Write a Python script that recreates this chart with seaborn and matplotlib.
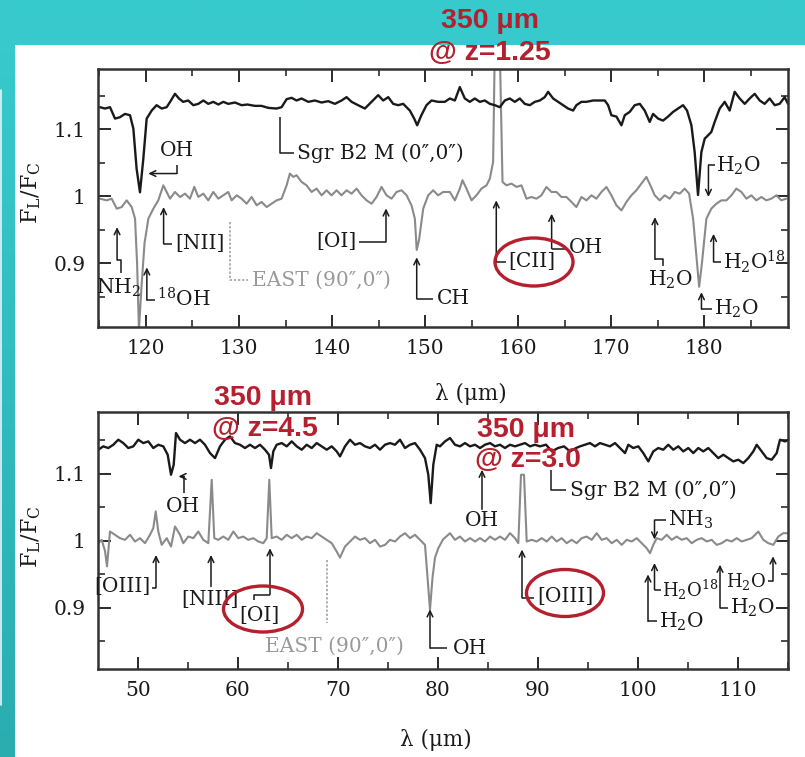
import numpy as np
import pandas as pd
import matplotlib
matplotlib.use("Agg")
import matplotlib.pyplot as plt
import seaborn as sns
from matplotlib.patches import Ellipse, Rectangle
from matplotlib.colors import LinearSegmentedColormap
from matplotlib.ticker import MultipleLocator, FixedLocator, FixedFormatter

# ---------------------------------------------------------------------------
# Spectra: line-to-continuum ratio F_L/F_C versus wavelength (micron)
# ---------------------------------------------------------------------------
# Long-wavelength panel (115-189 um), Sgr B2 M (0",0")
lw_sgr_wl = [115.07, 115.6, 116.14, 116.68, 117.2, 117.75, 118.29, 118.65, 119.0, 119.36,
             119.72, 120.08, 120.62, 121.15, 121.69, 122.23, 122.69, 123.12, 123.55, 124.0,
             124.55, 125.09, 125.63, 126.17, 126.7, 127.24, 127.78, 128.31, 128.85, 129.57,
             130.28, 130.9, 131.7, 132.4, 133.15, 134.04, 134.58, 135.12, 135.65, 136.19,
             136.73, 137.44, 138.16, 138.88, 139.59, 140.31, 141.02, 141.56, 142.1, 142.8,
             143.53, 144.25, 144.96, 145.5, 146.04, 146.57, 147.11, 147.65, 148.36, 148.83,
             149.15, 149.6, 150.15, 150.69, 151.4, 152.12, 152.66, 153.2, 153.73, 154.27,
             154.81, 155.34, 155.88, 156.42, 156.96, 157.49, 158.03, 158.57, 159.1, 159.64,
             160.18, 160.71, 161.25, 161.79, 162.33, 162.86, 163.22, 163.76, 164.3, 164.83,
             165.37, 165.91, 166.26, 166.8, 167.34, 168.05, 168.77, 169.31, 169.67, 170.02,
             170.56, 171.1, 171.46, 171.99, 172.53, 173.07, 173.6, 174.14, 174.5, 175.04,
             175.57, 176.11, 176.65, 177.18, 177.72, 178.15, 178.62, 178.97, 179.33, 179.69,
             180.05, 180.41, 180.76, 181.12, 181.66, 182.2, 182.73, 183.27, 183.81, 184.35,
             184.88, 185.42, 185.96, 186.49, 187.03, 187.57, 188.1, 188.64, 189.0]
lw_sgr_flux = [1.133, 1.131, 1.133, 1.116, 1.118, 1.123, 1.121, 1.101, 1.041, 1.006,
               1.056, 1.116, 1.128, 1.136, 1.131, 1.133, 1.143, 1.153, 1.146, 1.141,
               1.143, 1.136, 1.138, 1.143, 1.138, 1.141, 1.137, 1.141, 1.138, 1.140,
               1.136, 1.137, 1.135, 1.135, 1.132, 1.131, 1.133, 1.145, 1.147, 1.143,
               1.146, 1.141, 1.143, 1.140, 1.142, 1.138, 1.143, 1.148, 1.141, 1.136,
               1.131, 1.141, 1.151, 1.143, 1.148, 1.138, 1.136, 1.138, 1.128, 1.116,
               1.106, 1.121, 1.136, 1.143, 1.141, 1.141, 1.146, 1.143, 1.163, 1.146,
               1.141, 1.146, 1.141, 1.143, 1.138, 1.136, 1.133, 1.143, 1.146, 1.141,
               1.146, 1.138, 1.136, 1.141, 1.143, 1.148, 1.156, 1.146, 1.141, 1.136,
               1.131, 1.128, 1.136, 1.141, 1.141, 1.143, 1.143, 1.143, 1.136, 1.121,
               1.119, 1.106, 1.121, 1.126, 1.136, 1.138, 1.128, 1.111, 1.123, 1.116,
               1.113, 1.119, 1.126, 1.131, 1.136, 1.128, 1.106, 1.066, 1.002, 1.066,
               1.086, 1.091, 1.096, 1.111, 1.131, 1.141, 1.128, 1.156, 1.146, 1.138,
               1.146, 1.153, 1.143, 1.138, 1.146, 1.136, 1.138, 1.148, 1.138]

# Long-wavelength panel, EAST (90",0")
lw_east_wl = [115.07, 115.78, 116.32, 116.86, 117.39, 117.93, 118.47, 118.83, 119.05, 119.25,
              119.5, 119.85, 120.26, 120.8, 121.33, 121.87, 122.23, 122.59, 123.12, 123.66,
              124.2, 124.73, 125.2, 125.63, 126.17, 126.7, 127.24, 127.78, 128.31, 128.85,
              129.21, 129.75, 130.28, 130.82, 131.36, 131.9, 132.43, 132.97, 133.51, 134.04,
              134.58, 135.12, 135.47, 135.83, 136.19, 136.73, 137.26, 137.8, 138.34, 138.88,
              139.41, 139.95, 140.49, 141.02, 141.56, 142.1, 142.64, 143.17, 143.71, 144.25,
              144.78, 145.32, 145.86, 146.4, 146.93, 147.47, 148.01, 148.54, 148.9, 149.1,
              149.35, 149.8, 150.33, 150.87, 151.4, 151.94, 152.66, 153.2, 153.73, 154.02,
              154.45, 154.99, 155.52, 156.06, 156.6, 156.96, 157.31, 157.49, 158.03, 158.32,
              158.75, 159.28, 159.82, 160.36, 160.89, 161.43, 161.97, 162.5, 163.04, 163.58,
              164.12, 164.65, 165.19, 165.73, 166.26, 166.8, 167.34, 167.88, 168.41, 168.95,
              169.49, 170.02, 170.56, 171.1, 171.64, 172.17, 172.71, 173.25, 173.78, 174.21,
              174.68, 175.21, 175.75, 176.29, 176.83, 177.36, 177.9, 178.37, 178.8, 179.1,
              179.45, 179.75, 180.23, 180.76, 181.3, 181.84, 182.38, 182.92, 183.45, 183.99,
              184.53, 185.06, 185.6, 186.14, 186.67, 187.21, 187.75, 188.28, 188.82]
lw_east_flux = [0.9965, 0.994, 0.9965, 0.9816, 0.984, 0.994, 0.984, 0.9667, 0.900, 0.800,
                0.860, 0.930, 0.9667, 0.9816, 0.994, 1.0164, 1.0065, 0.9965, 1.0065, 0.999,
                1.004, 0.9965, 1.014, 0.999, 1.004, 0.994, 1.0065, 0.9965, 1.0015, 1.0065,
                0.994, 1.0015, 0.9965, 0.989, 0.999, 0.9866, 0.9916, 0.984, 0.989, 0.994,
                0.9965, 1.0164, 1.034, 1.029, 1.0314, 1.0214, 1.0164, 1.0065, 1.0115, 1.0015,
                1.009, 1.0015, 1.009, 1.0015, 1.009, 1.004, 1.0115, 1.0015, 0.994, 0.989,
                0.999, 1.014, 1.0015, 0.9965, 1.0065, 1.009, 1.0015, 0.9866, 0.9667, 0.920,
                0.935, 0.9816, 1.0015, 1.009, 1.0015, 1.0065, 1.0065, 0.994, 1.0115, 1.024,
                1.0115, 0.994, 1.0015, 1.0115, 1.0164, 1.0264, 1.0513, 1.220, 1.220, 1.0214,
                1.0164, 1.019, 1.014, 1.0164, 0.9965, 0.999, 0.9965, 1.0015, 1.014, 1.0065,
                1.0065, 0.999, 0.999, 0.9916, 0.984, 0.999, 0.994, 1.0015, 0.9965, 1.0065,
                1.014, 1.0015, 0.9866, 0.979, 0.9916, 1.0015, 1.009, 1.019, 1.029, 1.0164,
                1.0015, 0.994, 1.0015, 0.9965, 1.0065, 1.004, 1.0115, 1.004, 0.9667, 0.920,
                0.865, 0.900, 0.9667, 0.9816, 0.989, 0.994, 0.994, 1.0015, 1.0115, 1.0065,
                0.9965, 1.0015, 0.994, 0.999, 0.994, 0.9965, 1.0015, 0.994, 0.9965]

# Short-wavelength panel (46-115 um), Sgr B2 M (0",0")
sw_sgr_wl = [46.03, 46.53, 47.03, 47.53, 48.03, 48.53, 49.03, 49.53, 50.03, 50.53,
             51.03, 51.53, 52.03, 52.53, 52.97, 53.3, 53.57, 53.8, 54.2, 54.7,
             55.2, 55.7, 56.2, 56.7, 57.2, 57.7, 58.2, 58.7, 59.2, 59.7,
             60.2, 60.7, 61.2, 61.7, 62.2, 62.7, 63.1, 63.3, 63.53, 63.87,
             64.37, 64.87, 65.37, 65.87, 66.37, 66.87, 67.37, 67.87, 68.37, 68.87,
             69.37, 69.87, 70.2, 70.7, 71.2, 71.7, 72.2, 72.7, 73.2, 73.7,
             74.2, 74.7, 75.2, 75.7, 76.2, 76.7, 77.2, 77.7, 78.2, 78.7,
             79.03, 79.27, 79.53, 79.87, 80.2, 80.7, 81.2, 81.7, 82.2, 82.7,
             83.2, 83.7, 84.2, 84.7, 85.2, 85.7, 86.2, 86.7, 87.2, 87.7,
             88.2, 88.7, 89.2, 89.7, 90.2, 90.8, 91.4, 92.0, 92.6, 93.2,
             93.8, 94.2, 94.7, 95.2, 95.7, 96.2, 96.7, 97.2, 97.7, 98.2,
             98.7, 99.03, 99.53, 100.03, 100.53, 101.03, 101.53, 102.03, 102.53, 103.03,
             103.53, 104.03, 104.53, 105.03, 105.53, 106.03, 106.53, 107.03, 107.53, 108.03,
             108.53, 109.03, 109.53, 110.03, 110.53, 111.03, 111.53, 111.87, 112.37, 112.87,
             113.37, 113.87, 114.2, 114.7, 115.1]
sw_sgr_flux = [1.1358, 1.1408, 1.1383, 1.1432, 1.1507, 1.1457, 1.1383, 1.1408, 1.1507, 1.1457,
               1.1482, 1.1383, 1.1432, 1.1408, 1.1283, 1.0985, 1.1134, 1.1607, 1.1507, 1.1457,
               1.1507, 1.1457, 1.1507, 1.1432, 1.1308, 1.1233, 1.1408, 1.1507, 1.1557, 1.1457,
               1.1432, 1.1383, 1.1432, 1.1383, 1.1432, 1.1358, 1.1283, 1.1084, 1.1333, 1.1432,
               1.1457, 1.1408, 1.1482, 1.1408, 1.1358, 1.1432, 1.1383, 1.1457, 1.1408, 1.1358,
               1.1408, 1.1333, 1.1258, 1.1408, 1.1507, 1.1432, 1.1457, 1.1408, 1.1383, 1.1432,
               1.1358, 1.1432, 1.1457, 1.1432, 1.1507, 1.1383, 1.1432, 1.1457, 1.1358, 1.1233,
               1.0985, 1.0562, 1.1134, 1.1432, 1.1408, 1.1482, 1.1532, 1.1432, 1.1408, 1.1457,
               1.1408, 1.1432, 1.1383, 1.1432, 1.1457, 1.1408, 1.1432, 1.1383, 1.1432, 1.1408,
               1.1432, 1.1457, 1.1408, 1.1432, 1.1408, 1.1433, 1.1333, 1.1383, 1.1408, 1.1333,
               1.1383, 1.1408, 1.1432, 1.1457, 1.1408, 1.1457, 1.1432, 1.1408, 1.1457, 1.1383,
               1.1308, 1.1432, 1.1383, 1.1408, 1.1308, 1.1184, 1.1333, 1.1383, 1.1358, 1.1432,
               1.1358, 1.1408, 1.1333, 1.1383, 1.1308, 1.1383, 1.1333, 1.1383, 1.1308, 1.1233,
               1.1283, 1.1233, 1.1184, 1.1209, 1.1159, 1.1233, 1.1333, 1.1432, 1.1333, 1.1233,
               1.1209, 1.1308, 1.1507, 1.1482, 1.1507]

# Short-wavelength panel, EAST (90",0")
sw_east_wl = [46.03, 46.37, 46.7, 46.9, 47.2, 47.7, 48.2, 48.7, 49.2, 49.7,
              50.2, 50.7, 51.2, 51.53, 51.77, 52.03, 52.37, 52.87, 53.3, 53.7,
              54.2, 54.53, 55.03, 55.53, 56.03, 56.53, 57.03, 57.37, 57.63, 58.03,
              58.53, 59.03, 59.53, 60.03, 60.53, 61.03, 61.53, 62.03, 62.53, 62.87,
              63.13, 63.37, 63.87, 64.37, 64.87, 65.37, 65.87, 66.37, 66.87, 67.37,
              67.87, 68.37, 68.87, 69.37, 69.87, 70.2, 70.7, 71.2, 71.7, 72.2,
              72.7, 73.2, 73.7, 74.2, 74.7, 75.2, 75.7, 76.2, 76.7, 77.2,
              77.7, 78.2, 78.7, 78.95, 79.2, 79.45, 79.7, 80.03, 80.5, 81.2,
              81.7, 82.2, 82.7, 83.2, 83.7, 84.2, 84.7, 85.2, 85.7, 86.2,
              86.7, 87.2, 87.7, 88.03, 88.3, 88.6, 88.87, 89.37, 89.87, 90.37,
              90.87, 91.37, 91.87, 92.37, 92.87, 93.37, 93.87, 94.37, 94.87, 95.37,
              95.87, 96.37, 96.87, 97.37, 97.87, 98.37, 98.87, 99.37, 99.87, 100.37,
              100.87, 101.2, 101.53, 101.87, 102.37, 102.87, 103.37, 103.87, 104.37, 104.87,
              105.37, 105.87, 106.37, 106.87, 107.37, 107.87, 108.37, 108.87, 109.37, 109.87,
              110.37, 110.87, 111.37, 112.03, 112.53, 113.03, 113.53, 114.03, 114.53, 115.0]
sw_east_flux = [0.9965, 1.0015, 0.985, 0.962, 1.0139, 1.009, 1.004, 1.0015, 1.009, 0.999,
                1.004, 0.9965, 1.009, 1.0189, 1.0438, 1.0139, 0.994, 1.004, 0.9915, 1.0214,
                1.009, 0.9965, 1.0064, 1.004, 1.0139, 1.0015, 0.9965, 1.091, 1.004, 1.0015,
                1.0064, 1.0015, 1.0139, 1.004, 1.0064, 1.0015, 1.004, 0.999, 0.9965, 1.004,
                1.091, 1.004, 1.0064, 1.0015, 1.009, 1.004, 1.009, 1.0015, 1.0064, 1.004,
                1.0114, 1.0064, 1.0015, 0.9965, 0.984, 0.975, 0.9915, 0.999, 1.0064, 1.0015,
                1.004, 0.9965, 1.0015, 0.9915, 0.994, 1.0015, 0.999, 1.0064, 1.0114, 1.004,
                1.009, 1.0015, 0.994, 0.945, 0.8975, 0.945, 0.975, 0.989, 1.002, 1.0114,
                1.0015, 1.0064, 0.999, 1.004, 0.999, 1.004, 0.999, 1.0064, 1.0015, 1.0064,
                1.0015, 1.0114, 1.004, 0.9965, 1.0985, 1.0985, 0.999, 1.0015, 0.999, 1.004,
                0.999, 1.0064, 0.999, 1.004, 0.9965, 1.0015, 0.9965, 1.004, 1.0064, 1.0015,
                1.0114, 1.0015, 1.004, 0.9965, 1.0015, 0.994, 1.0015, 0.999, 1.004, 0.9965,
                0.989, 0.9816, 0.994, 1.004, 1.0015, 1.009, 1.0015, 1.0064, 1.0015, 1.004,
                0.9965, 1.0015, 1.004, 0.999, 1.0015, 0.994, 0.9965, 1.0015, 0.999, 1.004,
                0.999, 1.0015, 1.004, 1.0139, 1.0015, 0.9965, 0.994, 1.0064, 1.0114, 1.0114]

lw_xticks = [120, 130, 140, 150, 160, 170, 180]
sw_xticks = [50, 60, 70, 80, 90, 100, 110]
y_ticks = [0.9, 1.0, 1.1]
y_ticklabels = ["0.9", "1", "1.1"]

# ---------------------------------------------------------------------------
# Style
# ---------------------------------------------------------------------------
sns.set_theme(style="ticks")
plt.rcParams["font.family"] = ["DejaVu Serif"]
plt.rcParams["mathtext.default"] = "regular"
plt.rcParams["axes.unicode_minus"] = False

INK = "#1a1a1a"
GREY = "#8a8a8a"
RED = "#B51F2E"
LABEL_FS = 14.5
SMALL_FS = 13.0
TICK_FS = 14.5

W, H = 805, 757
fig = plt.figure(figsize=(W / 100, H / 100), dpi=100)

# slide background: teal band with a white content area
bg = fig.add_axes([0, 0, 1, 1], zorder=-10)
bg.set_axis_off()
teal = LinearSegmentedColormap.from_list("teal", ["#38CBCE", "#2BADB0"])
bg.imshow(np.linspace(0, 1, 256).reshape(-1, 1), cmap=teal, aspect="auto",
          extent=[0, 1, 0, 1], origin="upper")
bg.add_patch(Rectangle((15 / W, 0), 1, 1 - 45 / H, transform=bg.transAxes,
                       facecolor="white", edgecolor="none"))
bg.plot([0.6 / W, 0.6 / W], [1 - 90 / H, 1 - 705 / H], color="#e6f6f6", lw=1.2)
bg.set_xlim(0, 1)
bg.set_ylim(0, 1)

ax_lw = fig.add_axes([98 / W, 1 - 327 / H, 690 / W, 258 / H])
ax_sw = fig.add_axes([98 / W, 1 - 669 / H, 690 / W, 257 / H])


def draw_spectrum(ax, wl, flux, color, lw):
    df = pd.DataFrame({"wavelength": wl, "ratio": flux})
    sns.lineplot(data=df, x="wavelength", y="ratio", ax=ax, color=color,
                 linewidth=lw, estimator=None, sort=False)


def style_axes(ax, xlim, ylim, xticks, xlabel_xy, ylabel_xy):
    ax.set_xlim(*xlim)
    ax.set_ylim(*ylim)
    ax.set_facecolor("none")
    ax.xaxis.set_major_locator(FixedLocator(xticks))
    ax.xaxis.set_minor_locator(MultipleLocator(5))
    ax.yaxis.set_major_locator(FixedLocator(y_ticks))
    ax.yaxis.set_major_formatter(FixedFormatter(y_ticklabels))
    ax.yaxis.set_minor_locator(MultipleLocator(0.05))
    ax.tick_params(which="both", direction="in", top=True, right=True,
                   color=INK, labelcolor=INK, labelsize=TICK_FS)
    ax.tick_params(which="major", length=9, width=1.3, pad=9)
    ax.tick_params(which="minor", length=5, width=1.1)
    for sp in ax.spines.values():
        sp.set_linewidth(1.8)
        sp.set_color("#333333")
    ax.set_xlabel("λ (μm)", fontsize=TICK_FS + 1, color=INK)
    ax.set_ylabel("F$_L$/F$_C$", fontsize=TICK_FS + 1.5, color=INK)
    ax.xaxis.set_label_coords(*xlabel_xy)
    ax.yaxis.set_label_coords(*ylabel_xy)


def callout(ax, path, label, txy, ha="left", va="center", color=INK,
            arrow=True, ls="-", fs=LABEL_FS):
    xs, ys = zip(*path)
    if arrow:
        ax.plot(xs[1:], ys[1:], color=color, lw=1.1, ls=ls,
                solid_capstyle="butt", clip_on=False)
        ax.annotate("", xy=path[0], xytext=path[1],
                    arrowprops=dict(arrowstyle="->,head_length=0.35,head_width=0.17",
                                    color=color, lw=1.1, shrinkA=0, shrinkB=0))
    else:
        ax.plot(xs, ys, color=color, lw=1.1, ls=ls, solid_capstyle="butt")
    if label:
        ax.text(txy[0], txy[1], label, ha=ha, va=va, color=color, fontsize=fs)


# --- long-wavelength panel -------------------------------------------------
draw_spectrum(ax_lw, lw_east_wl, lw_east_flux, GREY, 1.5)
draw_spectrum(ax_lw, lw_sgr_wl, lw_sgr_flux, INK, 1.7)
style_axes(ax_lw, (114.85, 189.0), (0.805, 1.19), lw_xticks,
           (0.541, -0.215), (-0.08, 0.52))

callout(ax_lw, [(120.25, 1.034), (123.3, 1.034), (123.3, 1.046)], "OH", (123.3, 1.069), ha="center")
callout(ax_lw, [(134.4, 1.119), (134.4, 1.064), (135.9, 1.064)], "Sgr B2 M (0″,0″)",
        (136.2, 1.064), arrow=False)
callout(ax_lw, [(121.9, 0.984), (121.9, 0.929), (122.8, 0.929)], "[NII]", (123.1, 0.929))
callout(ax_lw, [(129.0, 0.962), (129.0, 0.875), (131.0, 0.875)], "EAST (90″,0″)",
        (131.4, 0.875), color="#9a9a9a", arrow=False, ls=(0, (1.5, 1.2)))
callout(ax_lw, [(116.9, 0.954), (116.9, 0.905), (117.35, 0.905), (117.35, 0.885)],
        "NH$_2$", (117.0, 0.863), ha="center")
callout(ax_lw, [(120.1, 0.894), (120.1, 0.845), (121.0, 0.845)], "$^{18}$OH", (121.2, 0.847))
callout(ax_lw, [(145.8, 0.982), (145.8, 0.932), (142.9, 0.932)], "[OI]", (142.6, 0.932), ha="right")
callout(ax_lw, [(149.1, 0.909), (149.1, 0.847), (150.9, 0.847)], "CH", (151.3, 0.847))
callout(ax_lw, [(157.65, 0.994), (157.65, 0.902), (158.7, 0.902)], "[CII]", (158.9, 0.902))
callout(ax_lw, [(163.6, 0.974), (163.6, 0.922), (165.1, 0.922)], "OH", (165.4, 0.924))
callout(ax_lw, [(174.7, 0.969), (174.7, 0.906), (175.6, 0.906), (175.6, 0.896)],
        "H$_2$O", (176.4, 0.876), ha="center")
callout(ax_lw, [(180.45, 0.999), (180.45, 1.046), (181.2, 1.046)], "H$_2$O", (181.3, 1.046))
callout(ax_lw, [(181.0, 0.944), (181.0, 0.902), (181.8, 0.902)], "H$_2$O$^{18}$", (182.0, 0.902))
callout(ax_lw, [(179.7, 0.857), (179.7, 0.832), (180.8, 0.832)], "H$_2$O", (181.0, 0.832))

# --- short-wavelength panel ------------------------------------------------
draw_spectrum(ax_sw, sw_east_wl, sw_east_flux, GREY, 1.5)
draw_spectrum(ax_sw, sw_sgr_wl, sw_sgr_flux, INK, 1.7)
style_axes(ax_sw, (46.0, 115.0), (0.809, 1.192), sw_xticks,
           (0.49, -0.235), (-0.08, 0.515))

callout(ax_sw, [(54.05, 1.096), (54.6, 1.096), (54.6, 1.072)], "OH", (54.5, 1.051), ha="center")
callout(ax_sw, [(51.8, 0.979), (51.8, 0.930), (51.4, 0.930)], "[OIII]", (51.2, 0.932), ha="right")
callout(ax_sw, [(57.3, 0.979), (57.3, 0.932)], "[NIII]", (57.2, 0.912), ha="center")
callout(ax_sw, [(63.2, 0.989), (63.2, 0.920), (61.6, 0.920), (61.6, 0.912)],
        "[OI]", (62.1, 0.889), ha="center")
callout(ax_sw, [(68.9, 0.972), (68.9, 0.878)], "", (68.9, 0.878),
        color="#9a9a9a", arrow=False, ls=(0, (1.5, 1.2)))
ax_sw.text(62.7, 0.843, "EAST (90″,0″)", ha="left", va="center",
           color="#9a9a9a", fontsize=LABEL_FS)
callout(ax_sw, [(79.2, 0.898), (79.2, 0.840), (80.9, 0.840)], "OH", (81.5, 0.840))
callout(ax_sw, [(84.4, 1.106), (84.4, 1.047)], "OH", (84.4, 1.030), ha="center")
callout(ax_sw, [(91.3, 1.106), (91.3, 1.076), (92.8, 1.076)], "Sgr B2 M (0″,0″)",
        (93.2, 1.076), arrow=False)
callout(ax_sw, [(88.4, 0.987), (88.4, 0.915), (89.6, 0.915)], "[OIII]", (89.9, 0.917))
callout(ax_sw, [(101.65, 1.002), (101.65, 1.031), (102.8, 1.031)], "NH$_3$", (103.0, 1.031))
callout(ax_sw, [(101.65, 0.967), (101.65, 0.927), (102.3, 0.927)], "H$_2$O$^{18}$",
        (102.45, 0.927), fs=SMALL_FS)
callout(ax_sw, [(101.0, 0.950), (101.0, 0.880), (101.9, 0.880)], "H$_2$O", (102.1, 0.880))
callout(ax_sw, [(108.2, 0.9645), (108.2, 0.900), (109.0, 0.900)], "H$_2$O", (109.2, 0.900))
callout(ax_sw, [(113.5, 0.977), (113.5, 0.940), (113.0, 0.940)], "H$_2$O", (112.85, 0.940),
        ha="right", fs=SMALL_FS)

# --- red call-outs on top of the figure ------------------------------------
ov = fig.add_axes([0, 0, 1, 1], zorder=20)
ov.set_xlim(0, W)
ov.set_ylim(H, 0)
ov.set_axis_off()
ov.patch.set_alpha(0)

red_font = dict(color=RED, fontsize=20.5, fontweight="bold",
                family=["Liberation Sans", "DejaVu Sans"], ha="center", va="center")
redshift_notes = [("350 μm", 490, 21), ("@ z=1.25", 490, 53),
                  ("350 μm", 263, 398), ("@ z=4.5", 265, 429),
                  ("350 μm", 526, 430), ("@ z=3.0", 528, 460)]
for txt, x, y in redshift_notes:
    ov.text(x, y, txt, **red_font)

for cx, cy, ew, eh in [(534, 262, 78, 48), (263, 609, 79, 46), (565, 593, 77, 47)]:
    ov.add_patch(Ellipse((cx, cy), ew, eh, fill=False, edgecolor=RED, lw=2.4))

fig.savefig("out.png", dpi=100)
